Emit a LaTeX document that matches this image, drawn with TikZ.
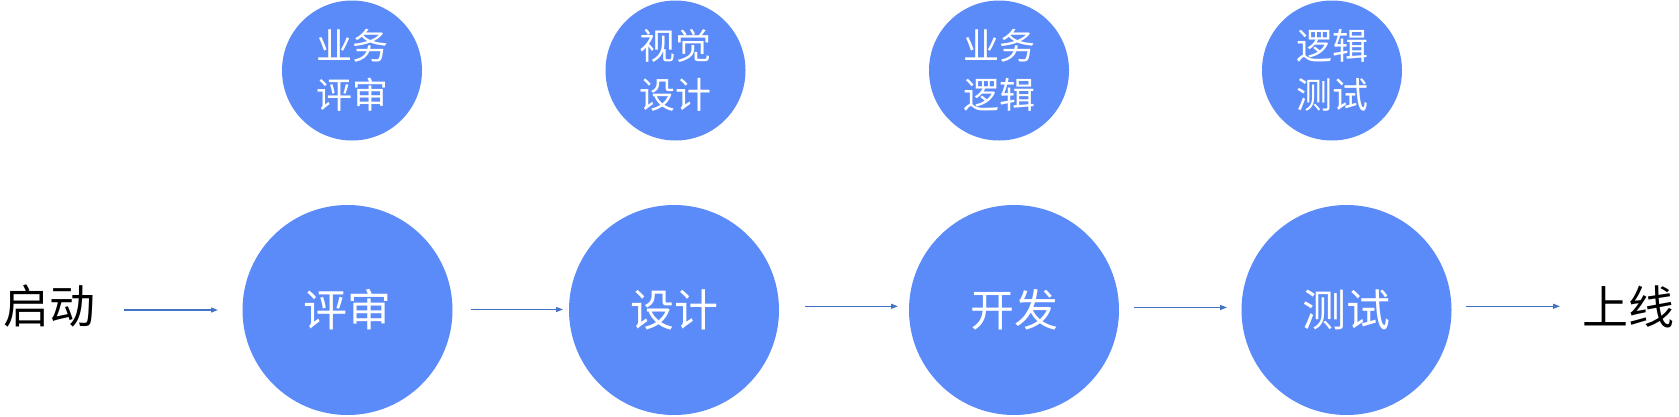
\documentclass[tikz,border=0pt]{standalone}
\usepackage{fontspec}
\setmainfont{Noto Sans CJK SC}
\usetikzlibrary{arrows.meta}
\definecolor{cblue}{RGB}{91,138,249}
\definecolor{ablue}{RGB}{68,114,196}
\begin{document}
\begin{tikzpicture}[x=1pt,y=-1pt,
  bigc/.style={circle,fill=cblue,inner sep=0pt,minimum size=210pt,text=white,font=\fontsize{44}{50}\selectfont},
  smallc/.style={circle,fill=cblue,inner sep=0pt,minimum size=140pt,text=white,align=center,font=\fontsize{36}{49}\selectfont},
  lbl/.style={inner sep=0pt,text=black,font=\fontsize{46}{50}\selectfont},
  flow/.style={draw=ablue,line width=1.2pt,-{Triangle[length=7pt,width=5pt]}}]
\useasboundingbox (0,0) rectangle (1679,416);
\fill[white] (0,0) rectangle (1679,416);
\node[lbl] (qd) at (49,306) {启动};
\node[lbl] (sx) at (1628,307) {上线};
\node[bigc] (ps) at (347.5,310) {评审};
\node[bigc] (sj) at (674,310) {设计};
\node[bigc] (kf) at (1014,310) {开发};
\node[bigc] (cs) at (1346.5,310) {测试};
\node[smallc] (s1) at (352,70.5) {业务\\评审};
\node[smallc] (s2) at (675.5,70.5) {视觉\\设计};
\node[smallc] (s3) at (999,70.5) {业务\\逻辑};
\node[smallc] (s4) at (1332,70.5) {逻辑\\测试};
\coordinate (a1s) at (124,310); \coordinate (a1e) at (218,310);
\coordinate (a2s) at (471,309.5); \coordinate (a2e) at (563,309.5);
\coordinate (a3s) at (805,306.3); \coordinate (a3e) at (898,306.3);
\coordinate (a4s) at (1134,307.5); \coordinate (a4e) at (1227,307.5);
\coordinate (a5s) at (1466,306.3); \coordinate (a5e) at (1560,306.3);
\draw[flow] (a1s) -- (a1e);
\draw[flow] (a2s) -- (a2e);
\draw[flow] (a3s) -- (a3e);
\draw[flow] (a4s) -- (a4e);
\draw[flow] (a5s) -- (a5e);
\end{tikzpicture}
\end{document}
